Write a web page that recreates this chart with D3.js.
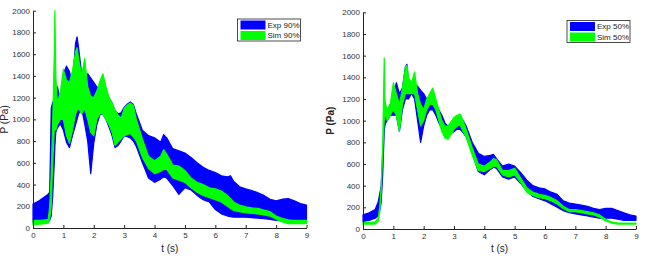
<!DOCTYPE html>
<html>
<head>
<meta charset="utf-8">
<script src="https://cdn.jsdelivr.net/npm/d3@7"></script>
<style>
  body { margin: 0; background: #fff; }
  svg { display: block; font-family: "Liberation Sans", Arial, sans-serif; }
  .axis path, .axis line { stroke: #222; }
  .axis text { fill: #333; font-size: 8px; }
</style>
</head>
<body>
<svg id="chart" width="650" height="264"></svg>
<script>
// time grid (s)
const time = [0, 0.2, 0.4, 0.5, 0.55, 0.6, 0.65, 0.7, 0.72, 0.75,
  0.8, 0.9, 1.0, 1.1, 1.2, 1.3, 1.4, 1.45, 1.5, 1.6,
  1.7, 1.8, 1.9, 2.0, 2.1, 2.2, 2.3, 2.4, 2.5, 2.6,
  2.7, 2.8, 2.9, 3.0, 3.1, 3.2, 3.3, 3.4, 3.6, 3.8,
  4.0, 4.2, 4.3, 4.4, 4.6, 4.8, 5.0, 5.2, 5.4, 5.6,
  5.8, 6.0, 6.2, 6.4, 6.5, 6.6, 6.8, 7.0, 7.2, 7.4,
  7.6, 7.8, 8.0, 8.2, 8.4, 8.6, 8.8, 9.0];

// 90% - experiment band
const exp90Hi = [220, 250, 290, 310, 330, 1100, 1160, 1050, 1200, 1280,
  1300, 1180, 1420, 1490, 1440, 1320, 1700, 1760, 1660, 1420,
  1360, 1420, 1380, 1340, 1300, 1290, 1360, 1270, 1200, 1150,
  1080, 1050, 1060, 1110, 1140, 1160, 1140, 1050, 900, 850,
  830, 790, 860, 830, 730, 710, 690, 650, 600, 560,
  530, 510, 480, 470, 480, 430, 380, 360, 345, 325,
  300, 265, 250, 265, 270, 250, 225, 210];
const exp90Lo = [50, 55, 60, 60, 70, 110, 300, 600, 750, 880,
  920, 960, 900, 790, 740, 850, 950, 1000, 1050, 1100,
  960, 800, 500, 780, 950, 1040, 1050, 1000, 930, 850,
  740, 760, 800, 850, 840, 830, 800, 750, 600, 460,
  420, 450, 470, 460, 390, 310, 370, 350, 300, 260,
  240, 170, 130, 110, 105, 100, 100, 100, 95, 90,
  85, 80, 70, 65, 60, 55, 50, 50];
// 90% - simulation band
const sim90Hi = [70, 70, 75, 80, 200, 500, 1000, 1600, 2000, 1400,
  1150, 1250, 1460, 1360, 1340, 1450, 1620, 1660, 1560, 1400,
  1560, 1300, 1210, 1200, 1260, 1350, 1420, 1300, 1200, 1150,
  1080, 1040, 1010, 1100, 1130, 1150, 1130, 1000, 820, 660,
  620, 660, 720, 680, 580, 570, 530, 460, 420, 400,
  370, 360, 340, 300, 270, 240, 210, 195, 185, 180,
  165, 150, 110, 90, 75, 70, 70, 70];
const sim90Lo = [30, 35, 40, 45, 80, 200, 600, 900, 950, 900,
  950, 1000, 1000, 850, 780, 900, 1050, 1080, 1100, 1050,
  1100, 1000, 880, 850, 1000, 1050, 1050, 1000, 950, 880,
  760, 790, 820, 850, 860, 870, 840, 800, 650, 550,
  500, 520, 540, 540, 460, 440, 420, 370, 330, 300,
  280, 260, 240, 200, 180, 160, 150, 140, 135, 130,
  120, 110, 80, 55, 40, 40, 40, 40];

// 50% - experiment band
const exp50Hi = [130, 150, 180, 250, 320, 400, 700, 1000, 1030, 1050,
  1100, 1150, 1250, 1350, 1250, 1300, 1500, 1520, 1350, 1300,
  1300, 1320, 1280, 1250, 1200, 1150, 1160, 1150, 1100, 1050,
  980, 950, 970, 1000, 1030, 1050, 1000, 950, 800, 700,
  670, 680, 690, 650, 580, 600, 580, 520, 450, 400,
  380, 370, 340, 320, 290, 260, 240, 230, 220, 210,
  190, 180, 190, 190, 170, 150, 130, 120];
const exp50Lo = [70, 80, 100, 120, 170, 250, 500, 900, 950, 980,
  1000, 1050, 1050, 1050, 900, 1100, 1200, 1200, 1200, 1250,
  1200, 1000, 800, 950, 1050, 1100, 1100, 1050, 980, 920,
  880, 870, 880, 900, 920, 920, 890, 850, 700, 530,
  500, 550, 570, 560, 480, 460, 480, 420, 350, 300,
  280, 260, 230, 200, 185, 170, 150, 140, 130, 120,
  110, 100, 100, 100, 90, 80, 80, 80];
// 50% - simulation band
const sim50Hi = [60, 62, 65, 100, 200, 400, 800, 1580, 1200, 1150,
  1100, 1150, 1350, 1250, 1150, 1300, 1500, 1510, 1400, 1350,
  1450, 1250, 1150, 1100, 1200, 1250, 1300, 1200, 1100, 1000,
  950, 950, 990, 1030, 1050, 1060, 1000, 920, 750, 600,
  580, 620, 650, 640, 540, 540, 560, 470, 380, 340,
  320, 310, 290, 260, 235, 210, 180, 180, 170, 160,
  150, 130, 90, 65, 55, 55, 55, 55];
const sim50Lo = [45, 45, 45, 70, 150, 350, 700, 1000, 1050, 1050,
  1000, 1050, 1100, 1050, 900, 1150, 1250, 1250, 1250, 1250,
  1250, 1100, 950, 1000, 1100, 1150, 1150, 1100, 1000, 900,
  840, 830, 870, 920, 950, 960, 900, 850, 680, 540,
  530, 560, 580, 580, 500, 480, 500, 430, 340, 310,
  290, 280, 260, 230, 210, 190, 160, 160, 150, 140,
  130, 110, 75, 55, 45, 45, 45, 45];

const yTicks = [0, 200, 400, 600, 800, 1000, 1200, 1400, 1600, 1800, 2000];
const xTicks = [0, 1, 2, 3, 4, 5, 6, 7, 8, 9];

const blue = "#0000ff";
const green = "#00ff00";

const svg = d3.select("#chart");

function drawPanel(p) {
  const x = d3.scaleLinear().domain([0, 9]).range([p.left, p.right]);
  const y = d3.scaleLinear().domain([0, 2000]).range([p.bottom, p.top]);
  const g = svg.append("g");

  function band(lo, hi, color) {
    const pts = time.map(function (t, i) { return { t: t, lo: lo[i], hi: hi[i] }; });
    const area = d3.area()
      .x(function (d) { return x(d.t); })
      .y0(function (d) { return y(d.lo); })
      .y1(function (d) { return y(d.hi); });
    g.append("path")
      .attr("d", area(pts))
      .attr("fill", color)
      .attr("stroke", color)
      .attr("stroke-width", 1.2)
      .attr("stroke-linejoin", "round");
  }
  band(p.expLo, p.expHi, blue);
  band(p.simLo, p.simHi, green);

  // axes
  g.append("g")
    .attr("class", "axis")
    .attr("transform", "translate(0," + p.bottom + ")")
    .call(d3.axisBottom(x).tickValues(xTicks).tickFormat(d3.format("d"))
      .tickSizeInner(-3).tickSizeOuter(0).tickPadding(4));
  g.append("g")
    .attr("class", "axis")
    .attr("transform", "translate(" + p.left + ",0)")
    .call(d3.axisLeft(y).tickValues(yTicks).tickFormat(d3.format("d"))
      .tickSizeInner(-3).tickSizeOuter(0).tickPadding(3));

  // axis labels
  g.append("text")
    .attr("x", (p.left + p.right) / 2)
    .attr("y", 252)
    .attr("text-anchor", "middle")
    .attr("font-size", 10)
    .attr("fill", "#222")
    .text("t (s)");
  g.append("text")
    .attr("transform", "translate(" + p.yLabelX + "," + (p.bottom + p.top) / 2 + ") rotate(-90)")
    .attr("text-anchor", "middle")
    .attr("font-size", 10)
    .attr("font-weight", p.boldY ? "bold" : "normal")
    .attr("fill", "#222")
    .text("P (Pa)");

  // legend
  const lg = g.append("g").attr("transform", "translate(" + p.legX + "," + p.legY + ")");
  lg.append("rect")
    .attr("width", 63).attr("height", 22)
    .attr("fill", "#fff").attr("stroke", "#222").attr("stroke-width", 0.8);
  p.legend.forEach(function (d, i) {
    lg.append("rect")
      .attr("x", 3).attr("y", 1.5 + i * 10.5)
      .attr("width", 25).attr("height", 9)
      .attr("fill", d.color);
    lg.append("text")
      .attr("x", 30).attr("y", 8.5 + i * 10.5)
      .attr("font-size", 8)
      .attr("fill", "#222")
      .text(d.name);
  });
}

drawPanel({
  left: 33, right: 306.5, top: 10.7, bottom: 228,
  expHi: exp90Hi, expLo: exp90Lo, simHi: sim90Hi, simLo: sim90Lo,
  yLabelX: 8, boldY: false,
  legX: 237.5, legY: 19,
  legend: [{ name: "Exp 90%", color: blue }, { name: "Sim 90%", color: green }]
});

drawPanel({
  left: 363, right: 636, top: 12.3, bottom: 229,
  expHi: exp50Hi, expLo: exp50Lo, simHi: sim50Hi, simLo: sim50Lo,
  yLabelX: 334, boldY: true,
  legX: 567, legY: 20.5,
  legend: [{ name: "Exp 50%", color: blue }, { name: "Sim 50%", color: green }]
});
</script>
</body>
</html>
